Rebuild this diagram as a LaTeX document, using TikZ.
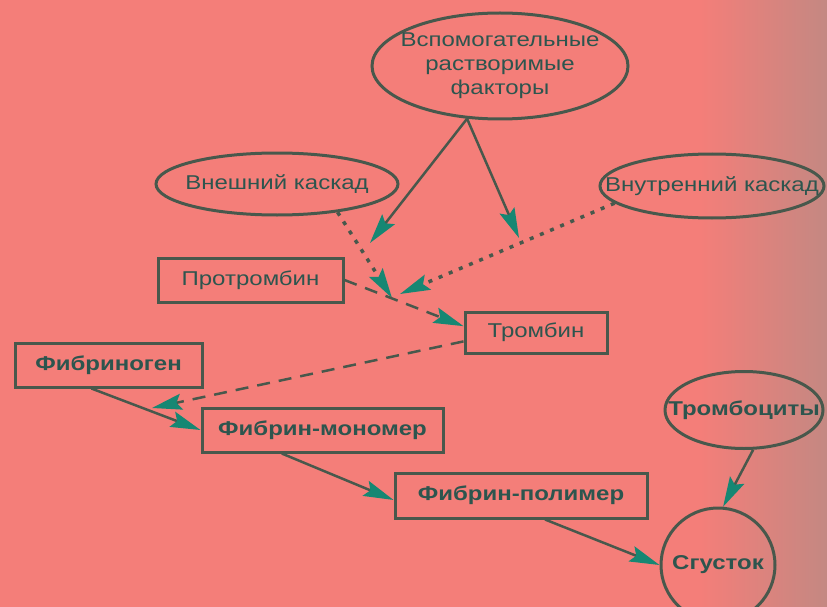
\documentclass[tikz,border=0pt]{standalone}
\usepackage{fontspec}
\newfontfamily\lab[FakeStretch=1.2]{Liberation Sans}
\usetikzlibrary{shapes.geometric,arrows.meta}
\definecolor{bg}{RGB}{244,126,121}
\definecolor{bgr}{RGB}{196,136,130}
\definecolor{linec}{RGB}{72,88,76}
\definecolor{txt}{RGB}{45,85,78}
\definecolor{tipc}{RGB}{22,135,115}
\begin{document}
\begin{tikzpicture}[x=1pt,y=-1pt,
  every node/.style={font=\lab\fontsize{20}{24}\selectfont, text=txt, align=center, inner sep=0pt},
  oval/.style={ellipse, draw=linec, line width=3pt, inner xsep=-30pt},
  box/.style={rectangle, draw=linec, line width=3pt},
  bold/.style={font=\lab\bfseries\fontsize{20}{24}\selectfont},
  arr/.style={draw=linec, line width=2.5pt, -{Stealth[length=30pt 0,width=16pt 0,inset=5pt,color=tipc]}},
  dotl/.style={arr, line width=3.5pt, dash pattern=on 4pt off 7pt},
  dashl/.style={arr, dash pattern=on 13pt off 9pt}]
\useasboundingbox (0,0) rectangle (827,607);
\fill[bg] (0,0) rectangle (827,607);
\shade[left color=bg, right color=bgr] (700,0) rectangle (827,607);

\node[oval, minimum width=256pt, minimum height=106pt] (aux) at (500,66) {Вспомогательные\\растворимые\\факторы};
\node[oval, minimum width=242pt, minimum height=62pt] (ext) at (277,184) {Внешний каскад};
\node[oval, minimum width=224pt, minimum height=64pt] (int) at (712,186) {Внутренний каскад};
\node[box, minimum width=185pt, minimum height=44pt] (pro) at (250.5,280) {Протромбин};
\node[box, minimum width=142pt, minimum height=41pt] (thr) at (536,332.5) {Тромбин};
\node[box, bold, minimum width=187pt, minimum height=44pt] (fbg) at (108.5,365) {Фибриноген};
\node[box, bold, minimum width=241pt, minimum height=44pt] (mono) at (322.5,430) {Фибрин-мономер};
\node[box, bold, minimum width=252pt, minimum height=45pt] (poly) at (521,495.5) {Фибрин-полимер};
\node[oval, bold, minimum width=158pt, minimum height=77pt] (plt) at (744,410) {Тромбоциты};
\node[circle, draw=linec, line width=3pt, bold, minimum size=114pt] (clot) at (718,565) {Сгусток};

\coordinate (a1) at (370,243);
\coordinate (a2) at (519,238);
\coordinate (e1) at (392,298);
\coordinate (i1) at (400,294);
\coordinate (f1) at (152,408);

\draw[arr] (aux.238) -- (a1);
\draw[arr] (aux.238) -- (a2);
\draw[dotl] (ext.-25) -- (e1);
\draw[dotl] (int.190) -- (i1);
\draw[dashl] (pro.east) -- (thr.175);
\draw[dashl] (thr.187) -- (f1);
\draw[arr] (fbg.-126) -- (mono.west);
\draw[arr] (mono.-150) -- (poly.182);
\draw[arr] (poly.-45) -- (clot.west);
\draw[arr] (plt.-77) -- (clot.85);
\end{tikzpicture}
\end{document}
